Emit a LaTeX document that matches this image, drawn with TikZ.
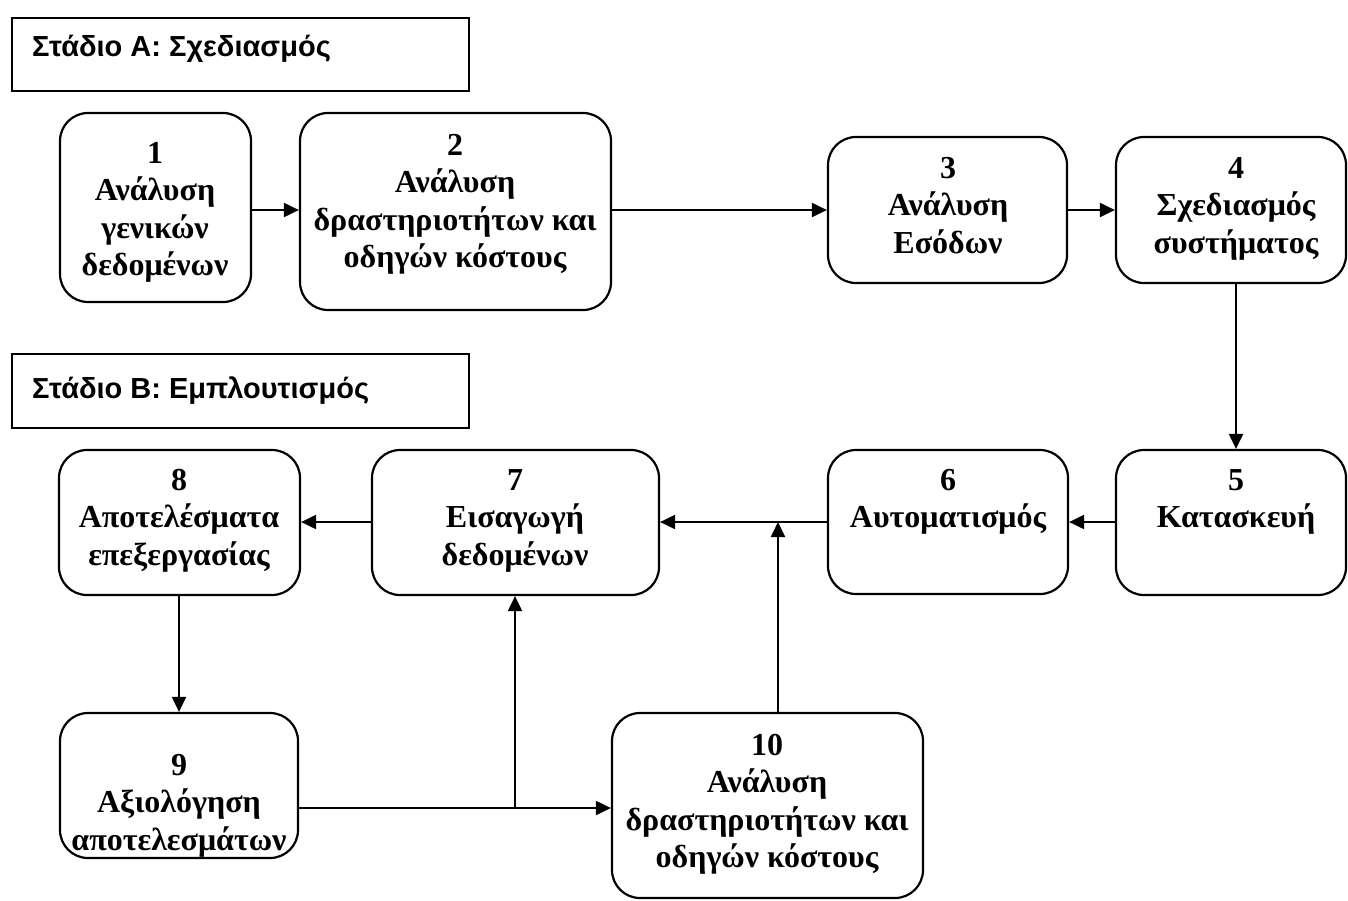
\documentclass[tikz,border=0pt]{standalone}
\usepackage{fontspec}
\setmainfont{Liberation Serif}
\newfontfamily\hfont{Liberation Sans}
\usetikzlibrary{arrows.meta}
\begin{document}
\begin{tikzpicture}[x=1pt,y=-1pt,
  box/.style={draw, line width=2.2pt, rounded corners=28pt, inner sep=0pt, fill=white},
  tbox/.style={draw, line width=2pt, inner sep=0pt, anchor=north west, fill=white},
  ttl/.style={anchor=base west, inner sep=0pt, font=\hfont\bfseries\fontsize{29}{34}\selectfont},
  txt/.style={anchor=north, inner sep=0pt, align=center, font=\bfseries\fontsize{32}{37.5}\selectfont},
  conn/.style={line width=2pt},
  arr/.style={line width=2pt, -{Triangle[length=15pt,width=14pt]}}]
\useasboundingbox (0,0) rectangle (1348,900);
\fill[white] (0,0) rectangle (1348,900);

% titles
\node[tbox, minimum width=457pt, minimum height=73pt] (tA) at (11,17) {};
\node[ttl] (tAt) at (32,56) {Στάδιο Α: Σχεδιασμός};
\node[tbox, minimum width=457pt, minimum height=74pt] (tB) at (11,353) {};
\node[ttl] (tBt) at (32,398) {Στάδιο Β: Εμπλουτισμός};

% boxes
\node[box, minimum width=191pt, minimum height=189pt] (b1) at (155.5,207.5) {};
\node[box, minimum width=311pt, minimum height=197pt] (b2) at (455.5,211.5) {};
\node[box, minimum width=239pt, minimum height=146pt] (b3) at (947.5,210) {};
\node[box, minimum width=230pt, minimum height=146pt] (b4) at (1231,210) {};
\node[box, minimum width=230pt, minimum height=145pt] (b5) at (1231,522.5) {};
\node[box, minimum width=240pt, minimum height=144pt] (b6) at (948,522) {};
\node[box, minimum width=287pt, minimum height=145pt] (b7) at (515.5,522.5) {};
\node[box, minimum width=241pt, minimum height=145pt] (b8) at (179.5,522.5) {};
\node[box, minimum width=238pt, minimum height=145pt] (b9) at (179,785.5) {};
\node[box, minimum width=311pt, minimum height=185pt] (b10) at (767.5,805.5) {};

% texts
\node[txt] (t1) at (155,142) {1\\Ανάλυση\\γενικών\\δεδομένων};
\node[txt] (t2) at (455,134) {2\\Ανάλυση\\δραστηριοτήτων και\\οδηγών κόστους};
\node[txt] (t3) at (948,157) {3\\Ανάλυση\\Εσόδων};
\node[txt] (t4) at (1236,157) {4\\Σχεδιασμός\\συστήματος};
\node[txt] (t5) at (1236,469) {5\\Κατασκευή};
\node[txt] (t6) at (948,469) {6\\Αυτοματισμός};
\node[txt] (t7) at (515,469) {7\\Εισαγωγή\\δεδομένων};
\node[txt] (t8) at (179,469) {8\\Αποτελέσματα\\επεξεργασίας};
\node[txt] (t9) at (179,754) {9\\Αξιολόγηση\\αποτελεσμάτων};
\node[txt] (t10) at (767,734) {10\\Ανάλυση\\δραστηριοτήτων και\\οδηγών κόστους};

% helper coordinates
\coordinate (r1) at (0,210);
\coordinate (r2) at (0,522);
\coordinate (r3) at (0,808);
\coordinate (c45) at (1236,0);
\coordinate (c8) at (179,0);
\coordinate (c7) at (515,0);
\coordinate (c10) at (778,0);
\coordinate (j1) at (778,522);
\coordinate (j2) at (515,808);

% connectors
\draw[arr] (b1.east |- r1) -- (b2.west |- r1);
\draw[arr] (b2.east |- r1) -- (b3.west |- r1);
\draw[arr] (b3.east |- r1) -- (b4.west |- r1);
\draw[arr] (b4.south -| c45) -- (b5.north -| c45);
\draw[arr] (b5.west |- r2) -- (b6.east |- r2);
\draw[arr] (b6.west |- r2) -- (b7.east |- r2);
\draw[arr] (b7.west |- r2) -- (b8.east |- r2);
\draw[arr] (b8.south -| c8) -- (b9.north -| c8);
\draw[arr] (b9.east |- r3) -- (b10.west |- r3);
\draw[arr] (j2) -- (b7.south -| c7);
\draw[arr] (b10.north -| c10) -- (j1);
\end{tikzpicture}
\end{document}
